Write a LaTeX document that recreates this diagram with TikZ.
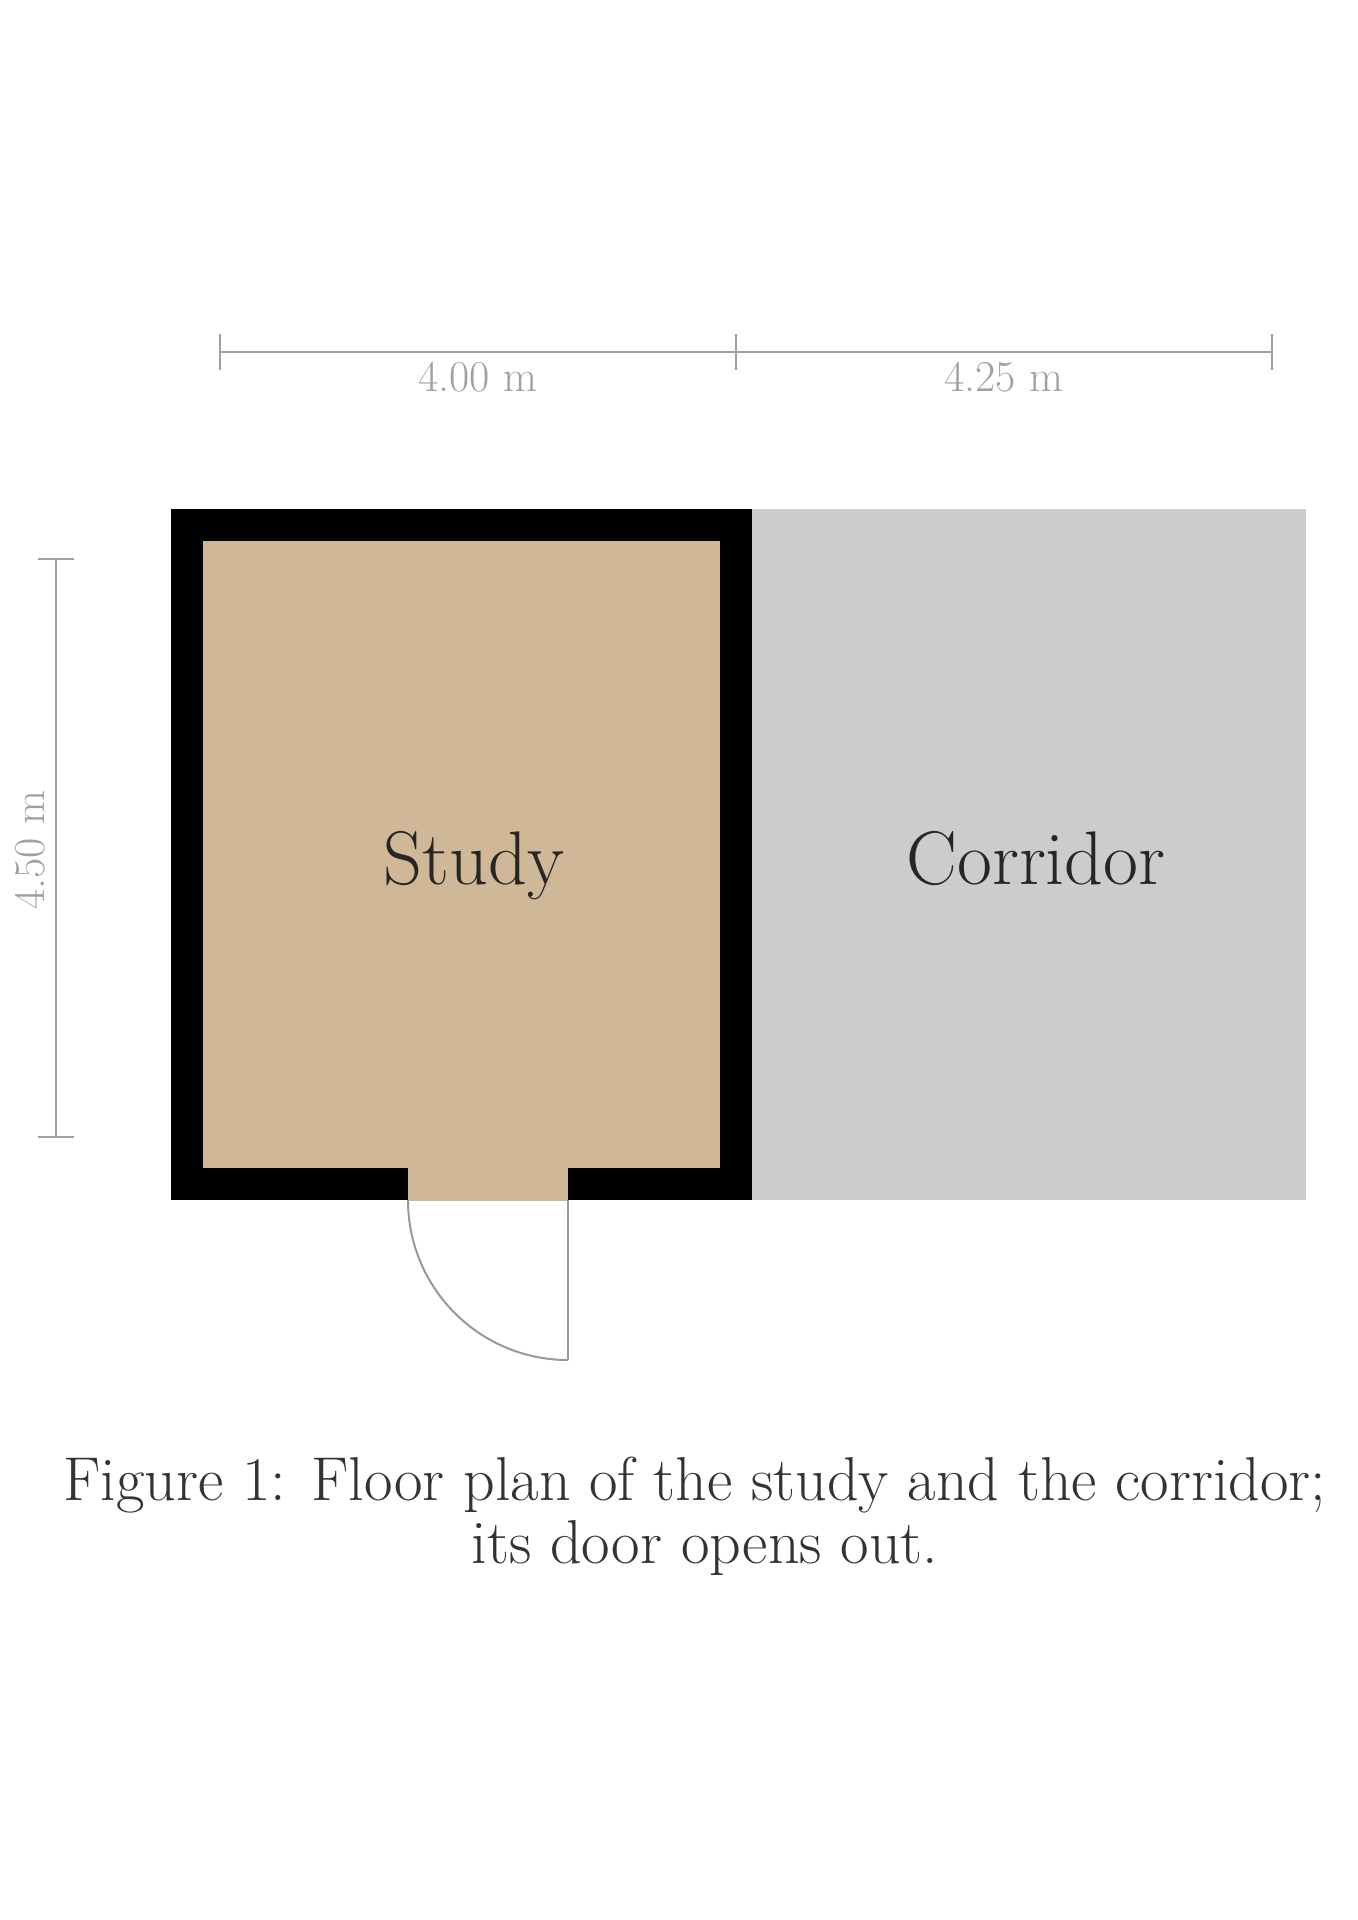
\documentclass[tikz,border=0pt]{standalone}
\usetikzlibrary{arrows.meta}
\definecolor{floortan}{RGB}{207,183,151}
\definecolor{halltone}{RGB}{204,204,204}
\definecolor{dimgray}{RGB}{160,160,160}
\begin{document}
\begin{tikzpicture}[x=0.5pt,y=-0.5pt,
  roomlabel/.style={font=\fontsize{38}{44}\selectfont, text=black!85, anchor=base, inner sep=0pt},
  dimline/.style={draw=dimgray, line width=1.2pt},
  dimlabel/.style={font=\fontsize{22}{26}\selectfont, text=dimgray, inner sep=2pt},
  doorline/.style={draw=black!40, line width=1pt},
  captionline/.style={font=\fontsize{31}{36}\selectfont, text=black!80, anchor=base, inner sep=0pt}]
\useasboundingbox (0,0) rectangle (1358,1920);
\fill[white] (0,0) rectangle (1358,1920);
% corridor floor
\fill[halltone] (752,509) rectangle (1306,1200);
% study: walls and floor
\fill[black] (171,509) rectangle (752,1200);
\fill[floortan] (203,541) rectangle (720,1168);
% door opening in the bottom wall
\fill[floortan] (408,1166) rectangle (568,1201);
\coordinate (hinge) at (568,1200);
\coordinate (jamb) at (408,1200);
\coordinate (leafend) at (568,1360);
\draw[doorline] (hinge) -- (leafend);
\draw[doorline] (jamb) arc[start angle=180, end angle=90, radius=160];
% room labels
\node[roomlabel] (studylabel) at (474,884) {Study};
\node[roomlabel] (corrlabel) at (1036,884) {Corridor};
% top dimension
\coordinate (dA) at (220,352);
\coordinate (dB) at (736,352);
\coordinate (dC) at (1272,352);
\draw[dimline] (dA) -- (dC);
\foreach \c in {dA,dB,dC} \draw[dimline] ([yshift=9pt]\c) -- ([yshift=-9pt]\c);
\node[dimlabel, anchor=north] (dimleft) at (478,358) {4.00 m};
\node[dimlabel, anchor=north] (dimright) at (1004,358) {4.25 m};
% left dimension
\coordinate (vA) at (56,559);
\coordinate (vB) at (56,1137);
\draw[dimline] (vA) -- (vB);
\foreach \c in {vA,vB} \draw[dimline] ([xshift=-9pt]\c) -- ([xshift=9pt]\c);
\node[dimlabel, rotate=90] (dimvert) at (30,850) {4.50 m};
% caption
\node[captionline] (capA) at (695,1500) {Figure 1: Floor plan of the study and the corridor;};
\node[captionline] (capB) at (705,1563) {its door opens out.};
\end{tikzpicture}
\end{document}
